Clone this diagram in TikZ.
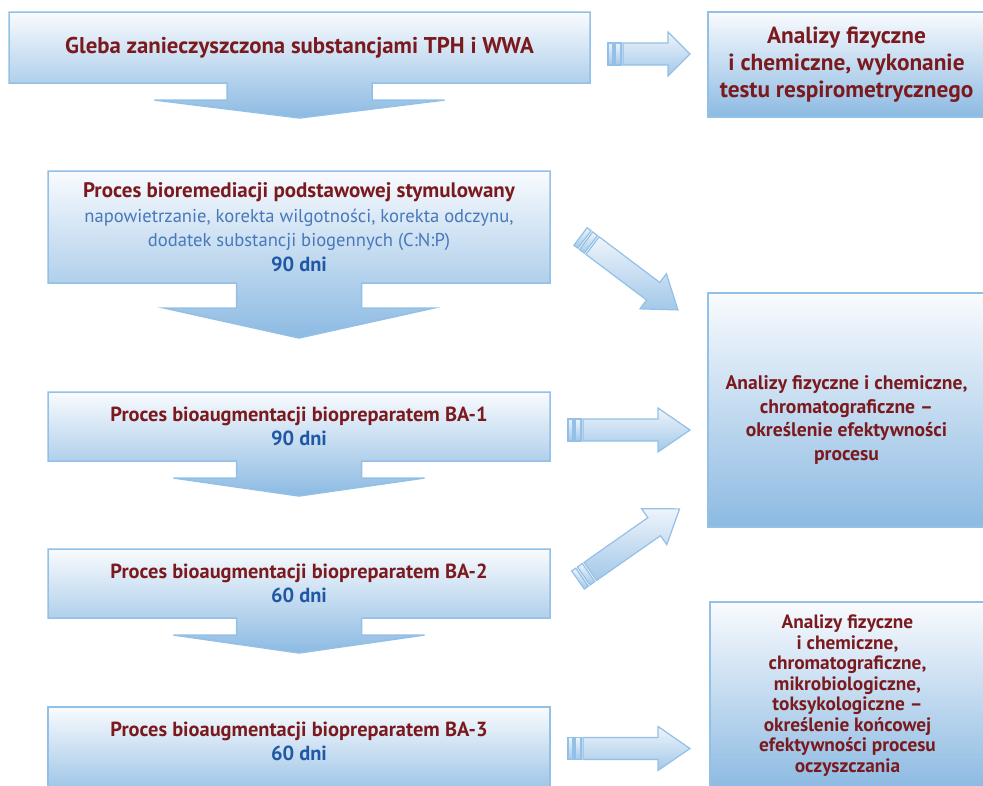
\documentclass[tikz,border=0pt]{standalone}
\usepackage{fontspec}
\setmainfont{PT Sans}
\usetikzlibrary{calc}
\usetikzlibrary{backgrounds}

\definecolor{darkred}{HTML}{7B1A1E}
\definecolor{daysblue}{HTML}{2158A5}
\definecolor{noteblue}{HTML}{4878BA}
\definecolor{boxline}{HTML}{93C0E6}
\definecolor{boxtop}{HTML}{F9FBFE}
\definecolor{boxbottom}{HTML}{8CBAE2}
\definecolor{arrowtop}{HTML}{EEF4FB}
\definecolor{arrowbottom}{HTML}{A3C8E9}

\tikzset{
    stagebox/.style={minimum width=502, minimum height=69, inner sep=0pt,
        outer sep=0pt, align=center, text=darkred,
        font=\bfseries\fontsize{20.4}{23.5}\selectfont},
    resultbox/.style={minimum width=277, inner sep=0pt, outer sep=0pt,
        align=center, text=darkred},
    stageshade/.style={draw=boxline, line width=1.5pt,
        top color=boxtop, bottom color=boxbottom},
    arrowbody/.style={draw=boxline, line width=1.2pt,
        top color=arrowtop, bottom color=arrowbottom},
    pics/fatarrow/.style 2 args={code={
        \draw[arrowbody] (0,-11) rectangle (5,11);
        \draw[arrowbody] (7,-11) rectangle (13,11);
        \draw[arrowbody] (15,-11) -- ({#1-#2},-11) -- ({#1-#2},-22) -- (#1,0)
            -- ({#1-#2},22) -- ({#1-#2},11) -- (15,11) -- cycle;
    }}
}

% box with a down arrow: node, stem half, head half, stem length, head length
\newcommand{\stagearrow}[5]{%
    \draw[stageshade] (#1.north west) -- (#1.north east) -- (#1.south east)
        -- ($(#1.south)+(#2,0)$) -- ($(#1.south)+(#2,#4)$)
        -- ($(#1.south)+(#3,#4)$) -- ($(#1.south)+(0,{#4+#5})$)
        -- ($(#1.south)+(-#3,#4)$) -- ($(#1.south)+(-#2,#4)$)
        -- ($(#1.south)+(-#2,0)$) -- (#1.south west) -- cycle;}

\begin{document}
\begin{tikzpicture}[x=1pt, y=-1pt]
    \useasboundingbox (0,0) rectangle (983,785);

    % process stages
    \node[stagebox, minimum width=581, minimum height=71,
        font=\bfseries\fontsize{22.8}{25}\selectfont] (soil) at (299.5,47.5)
        {Gleba zanieczyszczona substancjami TPH i WWA};
    \node[stagebox, minimum height=112, font=\fontsize{18.6}{24.5}\selectfont]
        (basic) at (299,227)
        {\fontsize{21}{24.5}\selectfont\bfseries
        Proces bioremediacji podstawowej stymulowany\\
        \color{noteblue}napowietrzanie, korekta wilgotności, korekta odczynu,\\
        \color{noteblue}dodatek substancji biogennych (C:N:P)\\
        \fontsize{20.4}{24.5}\selectfont\bfseries\color{daysblue}90 dni};
    \node[stagebox] (baone) at (299,426.5)
        {Proces bioaugmentacji biopreparatem BA-1\\ \color{daysblue}90 dni};
    \node[stagebox] (batwo) at (299,583.5)
        {Proces bioaugmentacji biopreparatem BA-2\\ \color{daysblue}60 dni};
    \node[stagebox] (bathree) at (299,741.5)
        {Proces bioaugmentacji biopreparatem BA-3\\ \color{daysblue}60 dni};

    % analyses
    \node[resultbox, minimum height=105,
        font=\bfseries\fontsize{23.3}{27}\selectfont] (respiro) at (846.5,64.5)
        {Analizy fizyczne\\ i chemiczne, wykonanie\\ testu respirometrycznego};
    \node[resultbox, minimum height=234] (effect) at (846.5,410) {};
    \node[resultbox, font=\bfseries\fontsize{19.6}{23.5}\selectfont]
        (effecttext) at ($(effect)+(0,10)$)
        {Analizy fizyczne i chemiczne,\\ chromatograficzne --\\
        określenie efektywności\\ procesu};
    \node[resultbox, minimum width=275, minimum height=187,
        font=\bfseries\fontsize{19.3}{20.5}\selectfont] (final) at (847.5,695.5)
        {Analizy fizyczne\\ i chemiczne,\\ chromatograficzne,\\
        mikrobiologiczne,\\ toksykologiczne --\\ określenie końcowej\\
        efektywności procesu\\ oczyszczania};

    \begin{scope}[on background layer]
        \stagearrow{soil}{72.5}{145}{17}{18}
        \stagearrow{basic}{62.5}{135}{25}{30}
        \stagearrow{baone}{62.5}{125.5}{17}{18}
        \stagearrow{batwo}{62.5}{125.5}{17}{18}
        \draw[stageshade] (bathree.north west) rectangle
            ($(bathree.south east)+(0,30)$);
        \draw[stageshade] (respiro.north west) rectangle (respiro.south east);
        \draw[stageshade] (effect.north west) rectangle (effect.south east);
        \draw[stageshade] (final.north west) rectangle (final.south east);
    \end{scope}

    % arrows to the analyses
    \coordinate (tailsoil) at ($(soil.east)+(18,6.5)$);
    \coordinate (tailbasic) at ($(basic.east)+(30.5,9.5)$);
    \coordinate (tailone) at ($(baone.east)+(18,3.5)$);
    \coordinate (tailtwo) at ($(batwo.east)+(28,-3.5)$);
    \coordinate (tailthree) at ($(bathree.east)+(18,7)$);
    \pic at (tailsoil) {fatarrow={82}{22}};
    \pic[rotate=-37] at (tailbasic) {fatarrow={122}{31}};
    \pic at (tailone) {fatarrow={122}{32}};
    \pic[rotate=35] at (tailtwo) {fatarrow={124}{31}};
    \pic at (tailthree) {fatarrow={122}{32}};
\end{tikzpicture}
\end{document}
